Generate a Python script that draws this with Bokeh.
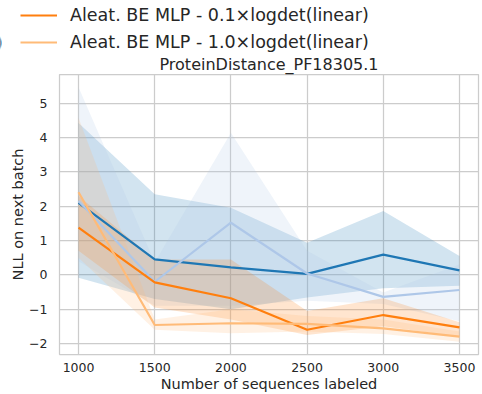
from bokeh.plotting import figure
from bokeh.layouts import column
from bokeh.models import (Range1d, FixedTicker, CustomJSTickFormatter, Legend,
                          LegendItem, Label)
from bokeh.embed import file_html
from bokeh.resources import INLINE

# Labeling budgets (x) and NLL on the next batch for each acquisition variant
budgets = [1000, 1500, 2000, 2500, 3000, 3500]

# dark blue run
run_a_mean = [2.10, 0.45, 0.22, 0.03, 0.59, 0.13]
run_a_lo = [-0.08, -0.70, -1.00, -0.66, -0.39, -0.32]
run_a_hi = [4.43, 2.35, 1.96, 0.94, 1.86, 0.55]

# light blue run
run_b_mean = [2.15, -0.20, 1.52, 0.04, -0.64, -0.44]
run_b_lo = [0.40, -0.90, -0.90, -0.75, -0.85, -1.35]
run_b_hi = [5.47, 0.36, 4.14, 0.70, -0.51, 0.30]

# Aleat. BE MLP - 0.1 x logdet(linear)
logdet01_mean = [1.38, -0.22, -0.68, -1.60, -1.17, -1.53]
logdet01_lo = [0.70, -0.95, -1.30, -1.75, -1.50, -1.80]
logdet01_hi = [2.30, 0.45, 0.45, -1.05, -0.68, -1.38]

# Aleat. BE MLP - 1.0 x logdet(linear)
logdet10_mean = [2.41, -1.46, -1.41, -1.43, -1.56, -1.80]
logdet10_lo = [0.50, -1.60, -1.70, -1.65, -1.72, -1.95]
logdet10_hi = [4.57, -1.30, -1.00, -1.20, -1.30, -1.65]

x_ticks = [1000, 1500, 2000, 2500, 3000, 3500]
y_ticks = [-2, -1, 0, 1, 2, 3, 4, 5]

label_a = "Aleat. BE MLP - 0.1×logdet(linear)"
label_b = "Aleat. BE MLP - 1.0×logdet(linear)"

TXT = "#262626"
GRID = "#cccccc"
FONT = "DejaVu Sans"
COLORS = ["#1f77b4", "#aec7e8", "#ff7f0e", "#ffbb78"]

LEG_H = 52

# ---- main axes -------------------------------------------------------------
p = figure(width=482, height=394 - LEG_H, output_backend="svg",
           toolbar_location=None,
           x_range=Range1d(875, 3625), y_range=Range1d(-2.32, 5.84),
           min_border_left=59, min_border_right=4, min_border_top=21,
           min_border_bottom=40, background_fill_color="white",
           border_fill_color="white")

p.title.text = "ProteinDistance_PF18305.1"
p.title.align = "center"
p.title.text_font = FONT
p.title.text_font_size = "16px"
p.title.text_font_style = "normal"
p.title.text_color = TXT
p.title.standoff = 1

p.outline_line_color = GRID
p.outline_line_width = 1.25

for ax in (p.xaxis[0], p.yaxis[0]):
    ax.axis_line_color = None
    ax.major_tick_line_color = None
    ax.minor_tick_line_color = None
    ax.major_label_text_font = FONT
    ax.major_label_text_font_size = "12.5px"
    ax.major_label_text_color = TXT
    ax.axis_label_text_font = FONT
    ax.axis_label_text_font_size = "14.5px"
    ax.axis_label_text_font_style = "normal"
    ax.axis_label_text_color = TXT
    ax.axis_label_standoff = 0
p.xaxis.major_label_standoff = 2
p.xaxis.axis_label_standoff = 1
p.yaxis.major_label_standoff = 6

p.xaxis.ticker = FixedTicker(ticks=x_ticks)
p.yaxis.ticker = FixedTicker(ticks=y_ticks)
p.yaxis.formatter = CustomJSTickFormatter(
    code="return tick < 0 ? '\u2212' + Math.abs(tick) : String(tick);")
p.xaxis.axis_label = "Number of sequences labeled"
p.yaxis.axis_label = "NLL on next batch"

p.xgrid.grid_line_color = GRID
p.ygrid.grid_line_color = GRID
p.xgrid.grid_line_width = 1.25
p.ygrid.grid_line_width = 1.25

series = [
    (run_a_mean, run_a_lo, run_a_hi),
    (run_b_mean, run_b_lo, run_b_hi),
    (logdet01_mean, logdet01_lo, logdet01_hi),
    (logdet10_mean, logdet10_lo, logdet10_hi),
]

# confidence bands underneath all mean lines
for (mean, lo, hi), col in zip(series, COLORS):
    p.varea(x=budgets, y1=lo, y2=hi, fill_color=col, fill_alpha=0.2)

for (mean, lo, hi), col in zip(series, COLORS):
    p.line(budgets, mean, line_color=col, line_width=2.2)

# ---- legend strip above the axes ------------------------------------------
top = figure(width=482, height=LEG_H, output_backend="svg",
             toolbar_location=None, x_axis_type=None, y_axis_type=None,
             x_range=Range1d(0, 1), y_range=Range1d(0, 1),
             min_border=0, outline_line_color=None,
             background_fill_color="white", border_fill_color="white")
top.grid.visible = False

# let the strip use its whole width instead of lining up with the axes frame
for fig in (top, p):
    if "frame_align" in fig.properties():
        fig.frame_align = False

# key lines: same series, lying outside this strip's ranges, so only the
# legend swatches show
key_a = top.line(budgets, logdet01_mean, line_color=COLORS[2], line_width=2.2)
key_b = top.line(budgets, logdet10_mean, line_color=COLORS[3], line_width=2.2)

legend = Legend(items=[LegendItem(label=label_a, renderers=[key_a]),
                       LegendItem(label=label_b, renderers=[key_b])],
                location=(20, 0), padding=0, margin=0, spacing=7,
                glyph_width=37, glyph_height=20, label_height=20,
                label_standoff=13, label_text_font=FONT,
                label_text_font_size="17.5px", label_text_color=TXT,
                border_line_alpha=0, background_fill_alpha=0)
top.add_layout(legend, "center")

# tail of the neighbouring legend column
top.add_layout(Label(x=-4.5, y=10, x_units="screen", y_units="screen",
                     text=")", text_font=FONT, text_font_size="17.5px",
                     text_color=TXT, text_baseline="middle"))

layout = column(top, p, spacing=0)
open("out.html", "w").write(file_html(layout, INLINE))
